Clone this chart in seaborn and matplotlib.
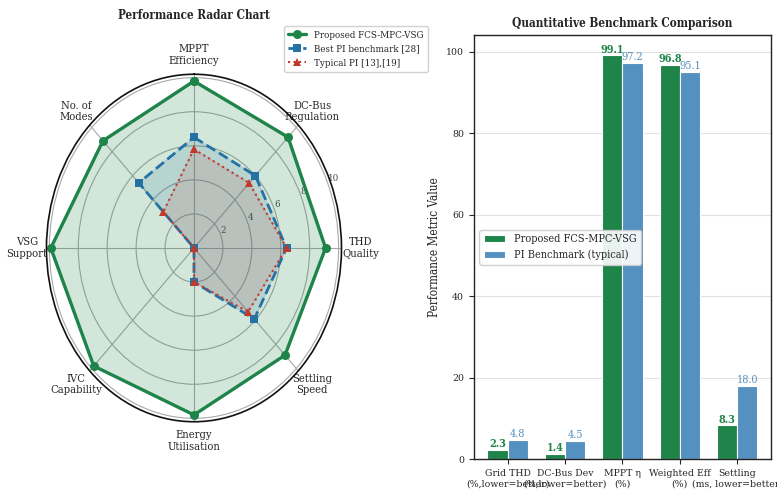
import numpy as np
import pandas as pd
import matplotlib
matplotlib.use("Agg")
import matplotlib.pyplot as plt
import seaborn as sns

# ---- radar chart data (normalised scores, 0-10) ----
radar_axes = ["MPPT\nEfficiency", "DC-Bus\nRegulation", "THD\nQuality", "Settling\nSpeed",
              "Energy\nUtilisation", "IVC\nCapability", "VSG\nSupport", "No. of\nModes"]
radar_series = ["Proposed FCS-MPC-VSG", "Best PI benchmark [28]", "Typical PI [13],[19]"]
proposed_scores = [9.8, 9.2, 9.1, 8.9, 9.8, 9.8, 9.9, 8.9]
best_pi_scores = [6.5, 6.0, 6.4, 5.9, 2.0, 0.0, 0.0, 5.4]
typical_pi_scores = [5.8, 5.4, 6.4, 5.3, 2.0, 0.0, 0.0, 3.0]
radar_ticks = [2, 4, 6, 8, 10]

# ---- benchmark bar data ----
bar_metrics = ["Grid THD\n(%,lower=better)", "DC-Bus Dev\n(%,lower=better)", "MPPT \u03b7\n(%)",
               "Weighted Eff\n(%)", "Settling\n(ms, lower=better)"]
bar_series = ["Proposed FCS-MPC-VSG", "PI Benchmark (typical)"]
proposed_values = [2.3, 1.4, 99.1, 96.8, 8.3]
pi_values = [4.8, 4.5, 97.2, 95.1, 18.0]

GREEN = "#1e8449"
BLUE_LINE = "#2471a3"
RED = "#c0392b"
BLUE_BAR = "#5490c0"

sns.set_theme(style="ticks")
plt.rcParams.update({
    "font.family": ["DejaVu Serif Condensed", "DejaVu Serif"],
    "font.stretch": "condensed",
    "axes.edgecolor": "#222222",
    "axes.linewidth": 1.0,
    "legend.edgecolor": "#cccccc",
})

fig = plt.figure(figsize=(7.77, 4.95), dpi=100)

# ---------------- radar ----------------
ax_r = fig.add_axes([0.0598, 0.148, 0.3797, 0.702], projection="polar")
ax_r.set_aspect("auto")
ax_r.set_theta_offset(np.pi / 2)
ax_r.set_theta_direction(-1)

angles = np.linspace(0, 2 * np.pi, len(radar_axes), endpoint=False)
theta = np.concatenate([angles, [2 * np.pi]])

styles = [
    (proposed_scores, GREEN, "-", "o", 2.4, 6.5, 0.20),
    (best_pi_scores, BLUE_LINE, "--", "s", 2.0, 5.5, 0.15),
    (typical_pi_scores, RED, ":", "^", 1.5, 5.5, 0.12),
]
for name, (scores, col, ls, mk, lw, ms, fa) in zip(radar_series, styles):
    r = np.concatenate([scores, [scores[0]]])
    sns.lineplot(x=theta, y=r, ax=ax_r, sort=False, color=col, linestyle=ls,
                 marker=mk, markersize=ms, markeredgewidth=0, linewidth=lw, label=name)
    ax_r.fill(theta, r, color=col, alpha=fa, zorder=1)

ax_r.set_ylim(0, 10.2)
ax_r.set_yticks(radar_ticks)
ax_r.set_yticklabels([str(t) for t in radar_ticks], fontsize=7, color="#444444")
ax_r.set_rlabel_position(67.5)
ax_r.set_xticks(angles)
ax_r.set_xticklabels(radar_axes, fontsize=8)
ax_r.tick_params(axis="x", length=0, pad=7)
ax_r.grid(True, color="#a8a8a8", linewidth=0.8)
ax_r.spines["polar"].set_color("#111111")
ax_r.spines["polar"].set_linewidth(1.2)
ax_r.set_xlabel("")
ax_r.set_ylabel("")
ax_r.set_title("Performance Radar Chart", fontsize=8.5, fontweight="bold", y=1.158, pad=0)
ax_r.legend(loc="upper right", bbox_to_anchor=(1.31, 1.153), fontsize=7,
            frameon=True, framealpha=0.9, borderpad=0.5, handlelength=1.8)

# ---------------- bars ----------------
ax_b = fig.add_axes([0.610, 0.0721, 0.3822, 0.857])
df = pd.DataFrame({
    "metric": bar_metrics * 2,
    "value": proposed_values + pi_values,
    "series": [bar_series[0]] * len(bar_metrics) + [bar_series[1]] * len(bar_metrics),
})
sns.barplot(data=df, x="metric", y="value", hue="series", palette=[GREEN, BLUE_BAR],
            width=0.7, gap=0, saturation=1, edgecolor="white", linewidth=0.8,
            errorbar=None, ax=ax_b)

label_styles = [(proposed_values, GREEN, "bold"), (pi_values, BLUE_BAR, "normal")]
for cont, (vals, col, fw) in zip(ax_b.containers, label_styles):
    ax_b.bar_label(cont, labels=[f"{v:.1f}" for v in vals], padding=0.5,
                   fontsize=7.8, color=col, fontweight=fw)

ax_b.set_xlim(-0.585, 4.585)
ax_b.set_xlabel("")
ax_b.set_ylabel("Performance Metric Value", fontsize=8.5)
ax_b.set_title("Quantitative Benchmark Comparison", fontsize=8.5, fontweight="bold")
ax_b.tick_params(axis="both", labelsize=7.5, length=3.5, width=0.8)
ax_b.yaxis.grid(True, color="#e2e2e2", linewidth=0.8)
ax_b.set_axisbelow(True)
h, l = ax_b.get_legend_handles_labels()
ax_b.legend(h, l, loc="center left", fontsize=7.8, frameon=True, framealpha=0.9)

fig.savefig("out.png", dpi=100)
